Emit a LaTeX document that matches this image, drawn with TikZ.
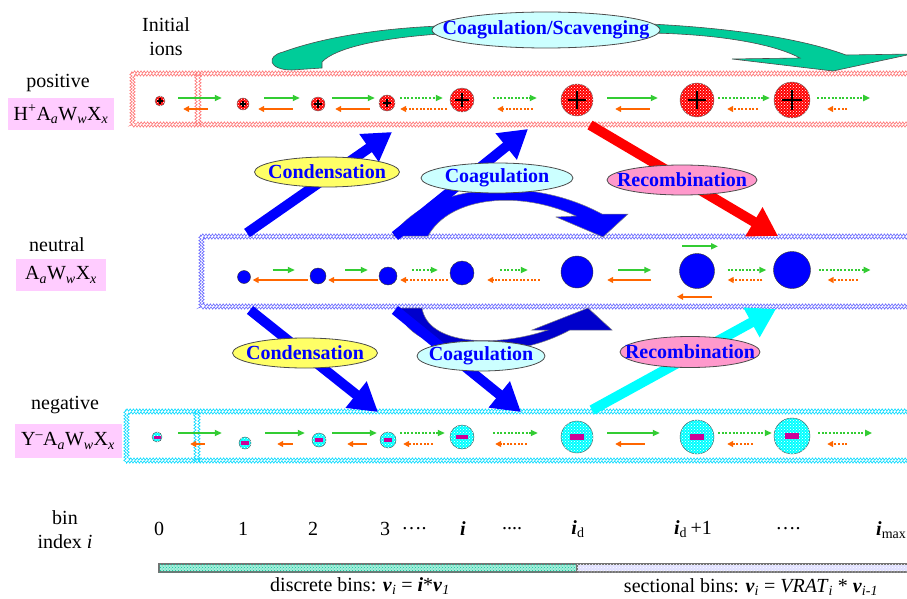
\documentclass[tikz,border=0pt]{standalone}
\usepackage{fontspec}
\setmainfont{Liberation Serif}
\usepackage{tikz}
\usetikzlibrary{
  positioning,
  shapes.geometric,
  patterns,
  decorations.pathmorphing,
  arrows.meta
}
\usepackage{xcolor}

\definecolor{fluxgreen}{RGB}{51,204,51}
\definecolor{fluxorange}{RGB}{255,102,0}
\definecolor{formpink}{RGB}{255,204,255}
\definecolor{scavgreen}{RGB}{0,204,153}
\definecolor{condyellow}{RGB}{255,255,102}
\definecolor{coagcyan}{RGB}{204,255,255}
\definecolor{recpink}{RGB}{255,153,204}
\definecolor{minusmag}{RGB}{204,0,153}
\definecolor{sectlav}{RGB}{204,204,255}
\definecolor{ioncyan}{RGB}{0,255,255}
\definecolor{ionblue}{RGB}{0,0,255}
\definecolor{ionred}{RGB}{255,0,0}

\tikzset{
  every node/.style={font=\fontsize{20}{24}\selectfont},
  bandline/.style={line width=0.6, decorate, decoration={zigzag, amplitude=1.2, segment length=3.2}},
  posband/.style={bandline, ionred!55},
  neuband/.style={bandline, ionblue!60},
  negband/.style={bandline, ioncyan!85!blue},
  posion/.style={circle, inner sep=0, draw=black!60, fill=ionred, postaction={pattern=crosshatch dots, pattern color=white}},
  negion/.style={circle, inner sep=0, draw=black!70, fill=ioncyan, postaction={pattern=crosshatch dots, pattern color=white}},
  neuion/.style={circle, inner sep=0, draw=black!80, fill=ionblue},
  fwdflux/.style={fluxgreen, line width=1.8, -{Triangle[length=7pt,width=6pt]}},
  bckflux/.style={fluxorange, line width=1.8, -{Triangle[length=6pt,width=6pt]}},
  fwddot/.style={fwdflux, dash pattern=on 2pt off 1.6pt},
  bckdot/.style={bckflux, dash pattern=on 2pt off 1.6pt},
  bigflux/.style={line width=10, -{Triangle[length=28pt,width=32pt]}},
  procell/.style={ellipse, draw=black!70, line width=0.8, inner sep=0},
  proctext/.style={text=ionblue, font=\fontsize{20}{24}\selectfont\bfseries},
  formula/.style={fill=formpink, inner sep=0}
}

\begin{document}
\begin{tikzpicture}[x=1pt,y=-1pt]
\useasboundingbox (0,0) rectangle (907,599);
\clip (0,0) rectangle (907,599);

% bands
\draw[posband] (131,72) rectangle (920,126);
\draw[posband] (134,75) rectangle (920,123);
\draw[posband] (196,72) -- (196,126) (200,72) -- (200,126);
\draw[neuband] (200,235) rectangle (920,308);
\draw[neuband] (203,238) rectangle (920,305);
\draw[negband] (125,410) rectangle (920,462);
\draw[negband] (128,413) rectangle (920,459);
\draw[negband] (195,410) -- (195,462) (199,410) -- (199,462);

% particles
\foreach \nm/\x/\y/\r in {p0/160/101/5, p1/243/104/6, p2/318/104/7, p3/387/103/8, p4/462/100/12, p5/577/100/16, p6/697/100/17, p7/792/100/18}{
  \node[posion, minimum size=2*\r] (\nm) at (\x,\y) {};
  \draw[line width=1.3] (\nm.center) +(-0.55*\r,0) -- +(0.55*\r,0) +(0,-0.55*\r) -- +(0,0.55*\r);
}
\foreach \nm/\x/\y/\r in {n1/244/277/6.5, n2/318/276/8, n3/388/276/9, n4/462/273/12, n5/577/272/16, n6/697/271/17.5, n7/792/270/18.5}{
  \node[neuion, minimum size=2*\r] (\nm) at (\x,\y) {};
}
\foreach \nm/\x/\y/\r in {m0/157/437/5, m1/245/443/6, m2/319/440/7, m3/388/440/8, m4/462/437/12, m5/577/437/16, m6/697/437/17, m7/792/436/18}{
  \node[negion, minimum size=2*\r] (\nm) at (\x,\y) {};
  \fill[minusmag] (\nm.center) ++(-2-0.3*\r,-1-0.1*\r) rectangle +(4+0.6*\r,2+0.2*\r);
}

% exchange between bins
\coordinate (posfwd) at (0,98);
\coordinate (posbck) at (0,109);
\coordinate (neufwd) at (0,270);
\coordinate (neubck) at (0,280);
\coordinate (negfwd) at (0,433);
\coordinate (negbck) at (0,444);

\draw[fwdflux, shorten <=13, shorten >=15] (p0.east |- posfwd) -- (p1.west |- posfwd);
\draw[bckflux, shorten <=29, shorten >=18] (p1.west |- posbck) -- (p0.east |- posbck);
\draw[fwdflux, shorten <=15, shorten >=11] (p1.east |- posfwd) -- (p2.west |- posfwd);
\draw[bckflux, shorten <=18, shorten >=9] (p2.west |- posbck) -- (p1.east |- posbck);
\draw[fwdflux, shorten <=7, shorten >=4] (p2.east |- posfwd) -- (p3.west |- posfwd);
\draw[bckflux, shorten <=9, shorten >=10] (p3.west |- posbck) -- (p2.east |- posbck);
\draw[fwddot, shorten <=5, shorten >=7] (p3.east |- posfwd) -- (p4.west |- posfwd);
\draw[bckdot, shorten <=3, shorten >=5] (p4.west |- posbck) -- (p3.east |- posbck);
\draw[fwddot, shorten <=19, shorten >=24] (p4.east |- posfwd) -- (p5.west |- posfwd);
\draw[bckdot, shorten <=28, shorten >=23] (p5.west |- posbck) -- (p4.east |- posbck);
\draw[fwdflux, shorten <=14, shorten >=22] (p5.east |- posfwd) -- (p6.west |- posfwd);
\draw[bckflux, shorten <=30, shorten >=22] (p6.west |- posbck) -- (p5.east |- posbck);
\draw[fwddot, shorten <=4, shorten >=4] (p6.east |- posfwd) -- (p7.west |- posfwd);
\draw[bckdot, shorten <=16, shorten >=13] (p7.west |- posbck) -- (p6.east |- posbck);
\draw[fwddot] (p7.east |- posfwd) ++(7,0) -- ++(53,0);
\draw[bckdot] (p7.east |- posbck) ++(37,0) -- ++(-20,0);

\draw[fwdflux, shorten <=22, shorten >=15] (n1.east |- neufwd) -- (n2.west |- neufwd);
\draw[bckflux, shorten <=2, shorten >=2] (n2.west |- neubck) -- (n1.east |- neubck);
\draw[fwdflux, shorten <=19, shorten >=11] (n2.east |- neufwd) -- (n3.west |- neufwd);
\draw[bckflux, shorten <=1, shorten >=2] (n3.west |- neubck) -- (n2.east |- neubck);
\draw[fwddot, shorten <=15, shorten >=12] (n3.east |- neufwd) -- (n4.west |- neufwd);
\draw[bckdot, shorten <=2, shorten >=3] (n4.west |- neubck) -- (n3.east |- neubck);
\draw[fwddot, shorten <=26, shorten >=33] (n4.east |- neufwd) -- (n5.west |- neufwd);
\draw[bckdot, shorten <=21, shorten >=13] (n5.west |- neubck) -- (n4.east |- neubck);
\draw[fwdflux, shorten <=25, shorten >=28] (n5.east |- neufwd) -- (n6.west |- neufwd);
\draw[bckflux, shorten <=28, shorten >=14] (n6.west |- neubck) -- (n5.east |- neubck);
\draw[fwdflux] (n6.north) ++(-15,-7) -- ++(36,0);
\draw[bckflux] (n6.south) ++(15,8) -- ++(-35,0);
\draw[fwddot, shorten <=13, shorten >=7] (n6.east |- neufwd) -- (n7.west |- neufwd);
\draw[bckdot, shorten <=11, shorten >=13] (n7.west |- neubck) -- (n6.east |- neubck);
\draw[fwddot] (n7.east |- neufwd) ++(8,0) -- ++(52,0);
\draw[bckdot] (n7.east |- neubck) ++(47,0) -- ++(-30,0);

\draw[fwdflux, shorten <=16, shorten >=17] (m0.east |- negfwd) -- (m1.west |- negfwd);
\draw[bckflux, shorten <=34, shorten >=28] (m1.west |- negbck) -- (m0.east |- negbck);
\draw[fwdflux, shorten <=14, shorten >=7] (m1.east |- negfwd) -- (m2.west |- negfwd);
\draw[bckflux, shorten <=19, shorten >=26] (m2.west |- negbck) -- (m1.east |- negbck);
\draw[fwdflux, shorten <=6, shorten >=3] (m2.east |- negfwd) -- (m3.west |- negfwd);
\draw[bckflux, shorten <=13, shorten >=21] (m3.west |- negbck) -- (m2.east |- negbck);
\draw[fwddot, shorten <=4, shorten >=5] (m3.east |- negfwd) -- (m4.west |- negfwd);
\draw[bckdot, shorten <=17, shorten >=7] (m4.west |- negbck) -- (m3.east |- negbck);
\draw[fwddot, shorten <=19, shorten >=23] (m4.east |- negfwd) -- (m5.west |- negfwd);
\draw[bckdot, shorten <=34, shorten >=21] (m5.west |- negbck) -- (m4.east |- negbck);
\draw[fwdflux, shorten <=14, shorten >=20] (m5.east |- negfwd) -- (m6.west |- negfwd);
\draw[bckflux, shorten <=35, shorten >=22] (m6.west |- negbck) -- (m5.east |- negbck);
\draw[fwddot, shorten <=4, shorten >=2] (m6.east |- negfwd) -- (m7.west |- negfwd);
\draw[bckdot, shorten <=21, shorten >=13] (m7.west |- negbck) -- (m6.east |- negbck);
\draw[fwddot] (m7.east |- negfwd) ++(8,0) -- ++(54,0);
\draw[bckdot] (m7.east |- negbck) ++(37,0) -- ++(-20,0);

% coagulation/scavenging
\filldraw[fill=scavgreen, draw=black!70, line width=0.6] (283,52) .. controls (330,35) and (390,28) .. (440,26) -- (650,24) .. controls (730,28) and (800,38) .. (846,55) -- (912,54) -- (833,71) -- (732,59) -- (800,58) .. controls (770,42) and (710,34) .. (650,33) -- (440,34) .. controls (380,38) and (335,48) .. (322,62) -- (322,68) -- (292,70) .. controls (268,70) and (266,56) .. (283,52) -- cycle;

% coagulation, curved
\filldraw[fill=ionblue, draw=black!50, line width=0.5] (393,236) .. controls (420,190) and (520,170) .. (602,214) -- (628,214) -- (603,237) -- (556,217) -- (576,216) .. controls (520,190) and (450,196) .. (428,236) -- cycle;
\filldraw[fill=ionblue!80!black, draw=black!50, line width=0.5] (398,308) .. controls (405,352) and (500,368) .. (570,330) -- (612,330) -- (588,308) -- (532,330) -- (548,330) .. controls (495,348) and (428,345) .. (422,308) -- cycle;

% process arrows
\coordinate (condupS) at (247,233);
\coordinate (condupE) at (392,132);
\coordinate (coagupS) at (395,236);
\coordinate (coagupE) at (528,129);
\coordinate (recupS) at (590,125);
\coordinate (recupE) at (778,236);
\coordinate (conddnS) at (250,310);
\coordinate (conddnE) at (378,412);
\coordinate (coagdnS) at (395,310);
\coordinate (coagdnE) at (521,412);
\coordinate (recdnS) at (592,410);
\coordinate (recdnE) at (776,309);
\draw[bigflux, ionblue] (condupS) -- (condupE);
\draw[bigflux, ionblue] (coagupS) -- (coagupE);
\draw[bigflux, ionred] (recupS) -- (recupE);
\draw[bigflux, ionblue] (conddnS) -- (conddnE);
\draw[bigflux, ionblue] (coagdnS) -- (coagdnE);
\draw[bigflux, ioncyan] (recdnS) -- (recdnE);

% process labels
\node[procell, fill=coagcyan, minimum width=228, minimum height=36] (scav) at (546,30) {};
\node[proctext] (scavt) at (scav) {Coagulation/Scavenging};
\node[procell, fill=condyellow, minimum width=145, minimum height=30] (condup) at (327,172) {};
\node[proctext] (condupt) at (condup) {Condensation};
\node[procell, fill=coagcyan, minimum width=152, minimum height=30] (coagup) at (497,178) {};
\node[proctext] (coagupt) at (coagup) {Coagulation};
\node[procell, fill=recpink, minimum width=150, minimum height=30] (recup) at (682,180) {};
\node[proctext] (recupt) at (recup) {Recombination};
\node[procell, fill=condyellow, minimum width=145, minimum height=30] (conddn) at (305,353) {};
\node[proctext] (conddnt) at (conddn) {Condensation};
\node[procell, fill=coagcyan, minimum width=128, minimum height=30] (coagdn) at (481,356) {};
\node[proctext] (coagdnt) at (coagdn) {Coagulation};
\node[procell, fill=recpink, minimum width=140, minimum height=31] (recdn) at (690,352) {};
\node[proctext] (recdnt) at (recdn) {Recombination};

% species
\node[align=center] (initlbl) at (166,37) {Initial\\ions};
\node (poslbl) at (58,83) {positive};
\node[formula, minimum width=106, minimum height=32] (posform) at (61,114) {H\textsuperscript{+}A\textsubscript{\textit{a}}W\textsubscript{\textit{w}}X\textsubscript{\textit{x}}};
\node (neulbl) at (57,245) {neutral};
\node[formula, minimum width=90, minimum height=32] (neuform) at (61,275) {A\textsubscript{\textit{a}}W\textsubscript{\textit{w}}X\textsubscript{\textit{x}}};
\node (neglbl) at (65,405) {negative};
\node[formula, minimum width=107, minimum height=34] (negform) at (68,441) {Y\textsuperscript{--}A\textsubscript{\textit{a}}W\textsubscript{\textit{w}}X\textsubscript{\textit{x}}};

% bin index
\node[align=center] (binlbl) at (65,530) {bin\\index \textit{i}};
\node (bin0) at (159,529) {0};
\node (bin1) at (243,529) {1};
\node (bin2) at (313,529) {2};
\node (bin3) at (385,529) {3};
\node (dotsa) at (414,529) {\ldots.};
\node (bini) at (463,529) {\textbf{\textit{i}}};
\node (dotsb) at (512,529) {....};
\node (binid) at (578,529) {\textbf{\textit{i}}\textsubscript{d}};
\node (binidp) at (693,529) {\textbf{\textit{i}}\textsubscript{d}\,+1};
\node (dotsc) at (788,529) {\ldots.};
\node[anchor=west, inner sep=0] (binmax) at (876,530) {\textbf{\textit{i}}\textsubscript{max}};

\filldraw[draw=black!55, line width=1.2, fill=scavgreen!35, postaction={pattern=crosshatch dots, pattern color=scavgreen}] (159,564) rectangle (577,572);
\filldraw[draw=black!55, line width=1.2, fill=sectlav!60, postaction={pattern=crosshatch dots, pattern color=white}] (577,564) rectangle (915,572);
\node (disclbl) at (360,586) {discrete bins: \textbf{\textit{v}}\textsubscript{\textit{i}} = \textbf{\textit{i}}*\textbf{\textit{v}}\textsubscript{\textit{1}}};
\node (sectlbl) at (751,587) {sectional bins: \textbf{\textit{v}}\textsubscript{\textit{i}} = \textit{VRAT}\textsubscript{\textit{i}} * \textbf{\textit{v}}\textsubscript{\textit{i-1}}};
\end{tikzpicture}
\end{document}
